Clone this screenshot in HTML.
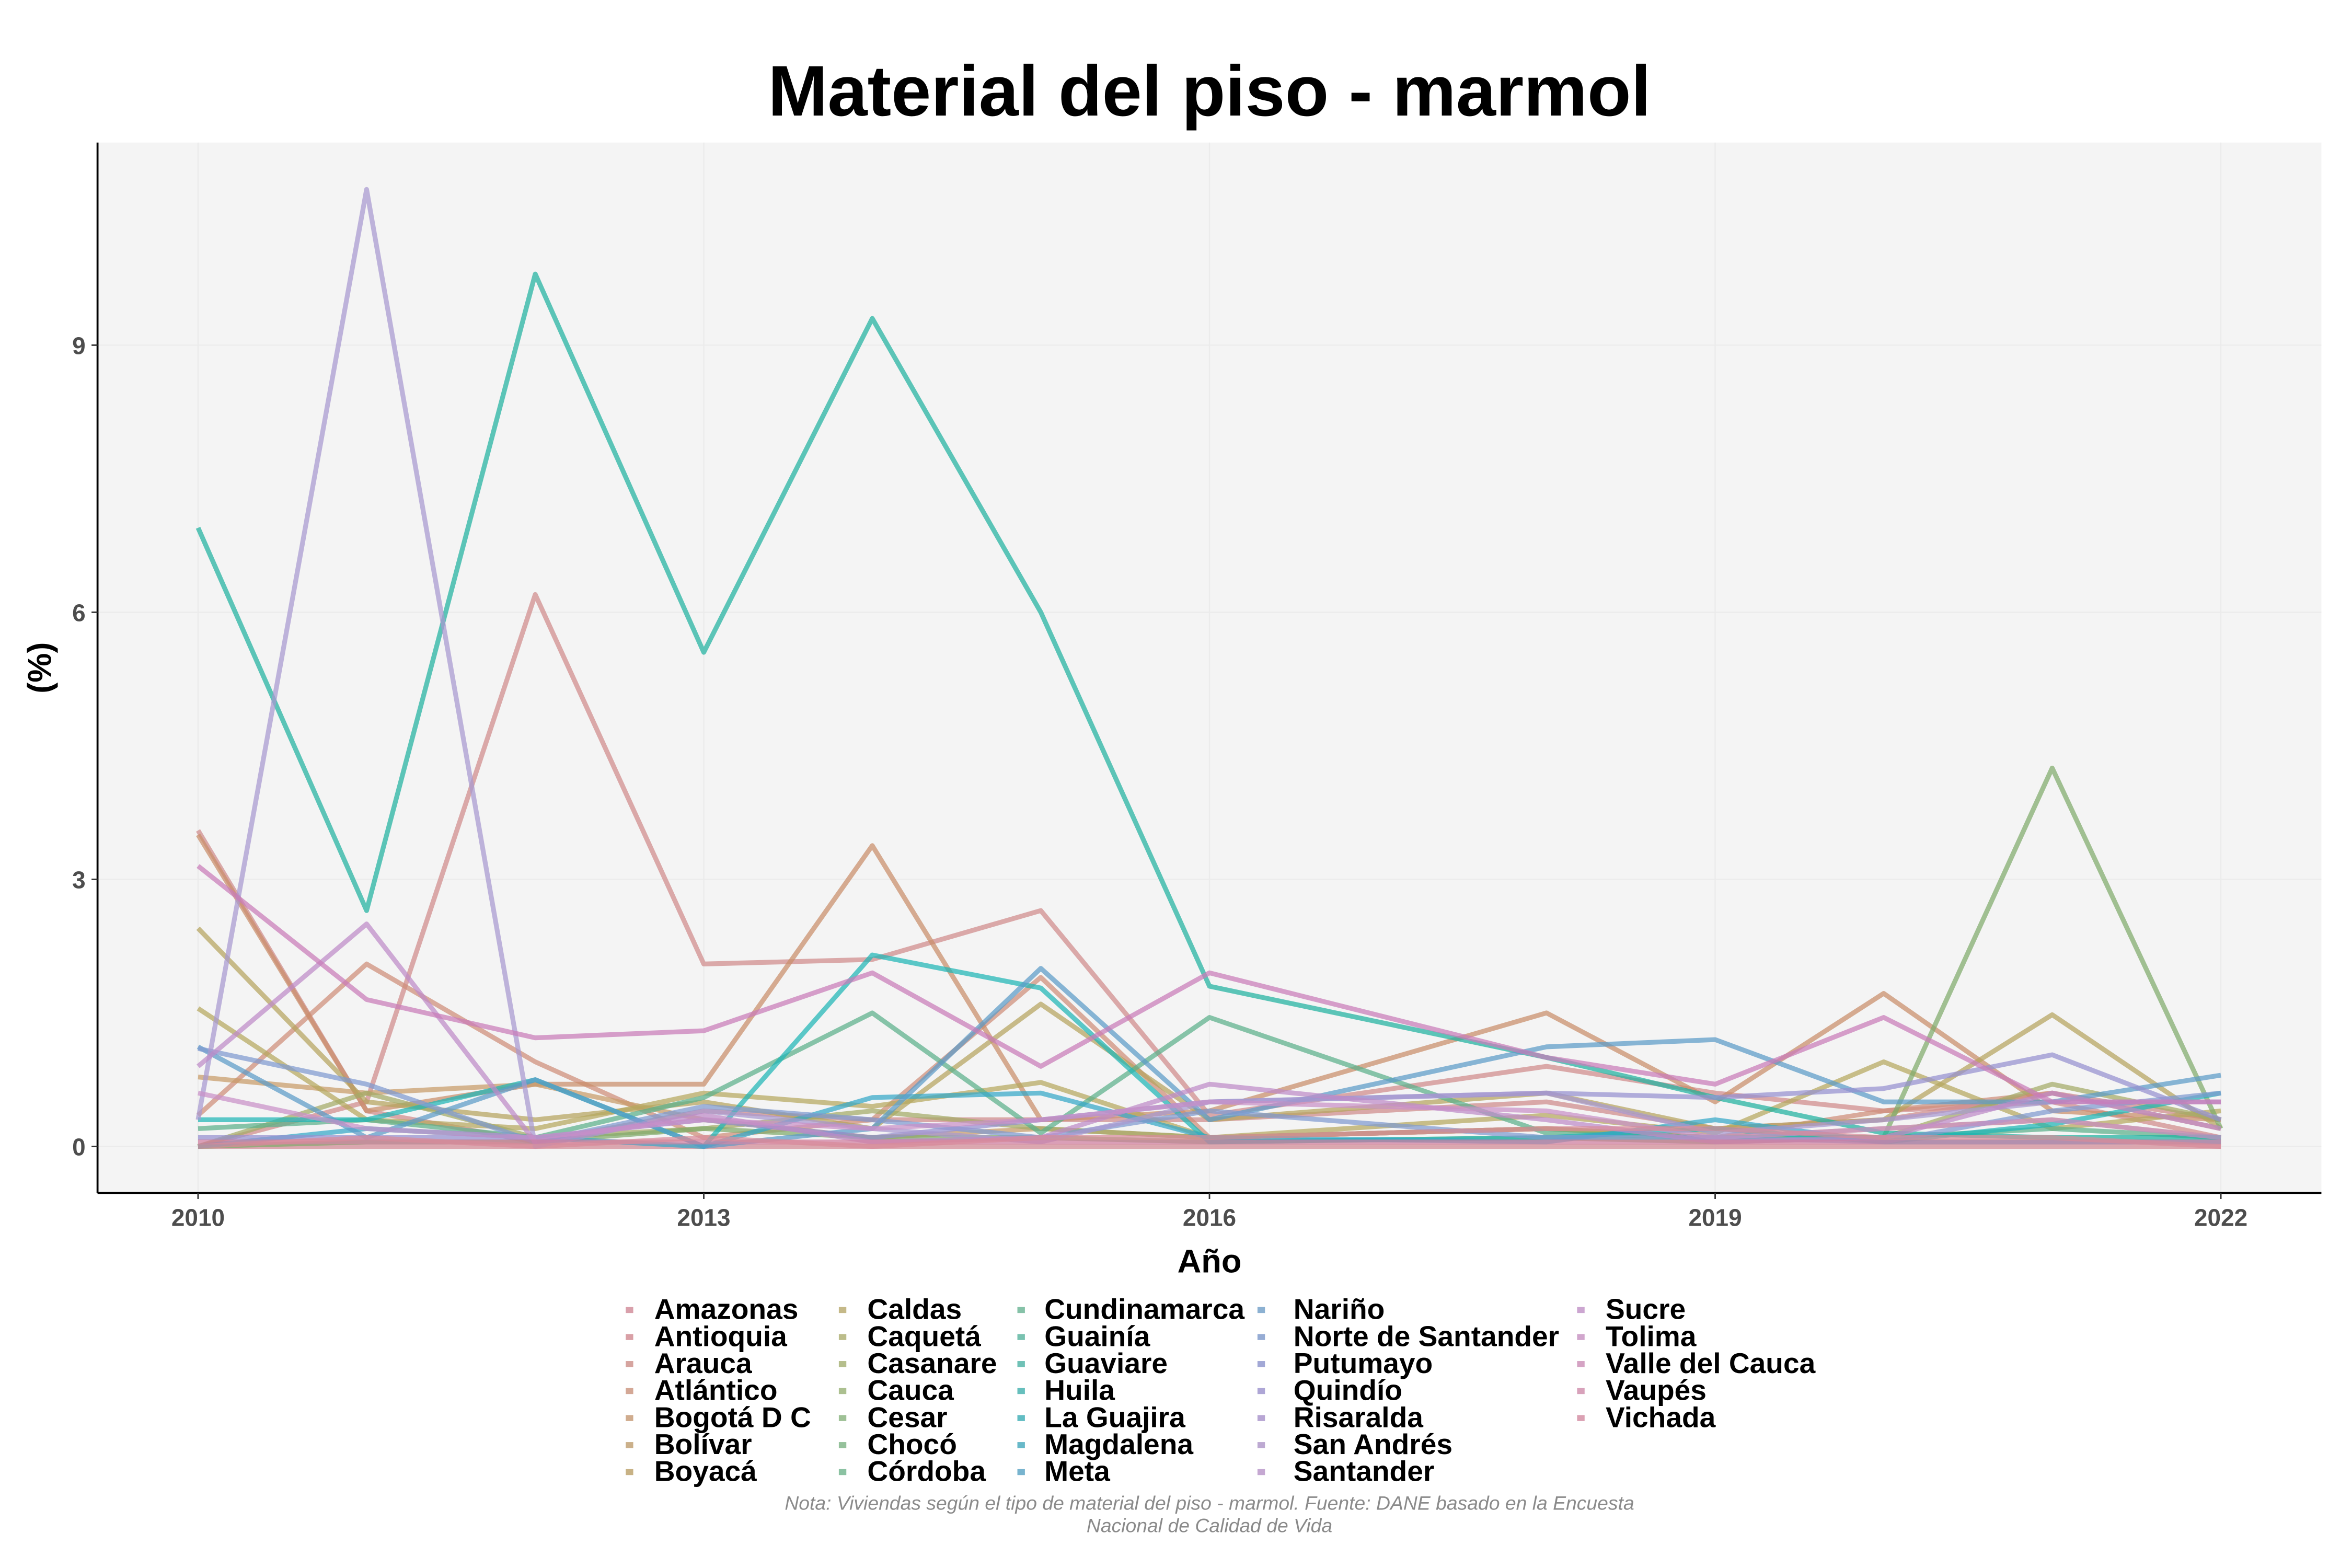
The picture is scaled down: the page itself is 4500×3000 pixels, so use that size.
<!DOCTYPE html>
<html><head><meta charset="utf-8"><style>
html,body{margin:0;padding:0;background:#fff}
svg{display:block}
text{font-family:"Liberation Sans Narrow","Liberation Sans",sans-serif;font-weight:bold}
</style></head><body>
<svg id="s" width="4500" height="3000" viewBox="0 0 1567.4 1044.9" xmlns="http://www.w3.org/2000/svg">
<rect x="0" y="0" width="1570" height="1050" fill="#fff"/>
<rect x="65" y="95" width="1482" height="700" fill="#f4f4f4"/>
<g stroke="#ebebeb" stroke-width="0.8">
<line x1="65" x2="1547" y1="764" y2="764"/><line x1="65" x2="1547" y1="586" y2="586"/>
<line x1="65" x2="1547" y1="408" y2="408"/><line x1="65" x2="1547" y1="230" y2="230"/>
<line y1="95" y2="795" x1="132" x2="132"/><line y1="95" y2="795" x1="469" x2="469"/>
<line y1="95" y2="795" x1="806" x2="806"/><line y1="95" y2="795" x1="1143" x2="1143"/>
<line y1="95" y2="795" x1="1480" x2="1480"/>
</g>
<g id="lines" fill="none" stroke-width="3.2" stroke-linejoin="round" stroke-opacity="0.72"></g>
<line x1="65" y1="95" x2="65" y2="795" stroke="#000" stroke-width="1.3"/>
<line x1="65" y1="795" x2="1547" y2="795" stroke="#000" stroke-width="1.3"/>
<g stroke="#333" stroke-width="1">
<line x1="61" x2="65" y1="764" y2="764"/><line x1="61" x2="65" y1="586" y2="586"/><line x1="61" x2="65" y1="408" y2="408"/><line x1="61" x2="65" y1="230" y2="230"/>
<line y1="795" y2="799" x1="132" x2="132"/><line y1="795" y2="799" x1="469" x2="469"/><line y1="795" y2="799" x1="806" x2="806"/><line y1="795" y2="799" x1="1143" x2="1143"/><line y1="795" y2="799" x1="1480" x2="1480"/>
</g>
<g fill="#4d4d4d" font-size="16" text-anchor="end">
<text x="57" y="770">0</text><text x="57" y="592">3</text><text x="57" y="414">6</text><text x="57" y="236">9</text>
</g>
<g fill="#4d4d4d" font-size="16" text-anchor="middle">
<text x="132" y="817">2010</text><text x="469" y="817">2013</text><text x="806" y="817">2016</text><text x="1143" y="817">2019</text><text x="1480" y="817">2022</text>
</g>
<text x="806" y="77" font-size="47.7" text-anchor="middle" style="font-family:'Liberation Sans',sans-serif">Material del piso - marmol</text>
<text x="806" y="848" font-size="22" text-anchor="middle">Año</text>
<text transform="translate(34,445) rotate(-90)" font-size="22" text-anchor="middle">(%)</text>
<g id="leg" font-size="19.2"></g>
<g fill="#8a8a8a" font-size="13" text-anchor="middle" font-style="italic">
<text x="806" y="1006" style="font-weight:normal">Nota: Viviendas según el tipo de material del piso - marmol. Fuente: DANE basado en la Encuesta</text>
<text x="806" y="1021" style="font-weight:normal">Nacional de Calidad de Vida</text>
</g>
</svg>
<script>
var NS="http://www.w3.org/2000/svg";
var names=[["Amazonas","Antioquia","Arauca","Atlántico","Bogotá D C","Bolívar","Boyacá"],
["Caldas","Caquetá","Casanare","Cauca","Cesar","Chocó","Córdoba"],
["Cundinamarca","Guainía","Guaviare","Huila","La Guajira","Magdalena","Meta"],
["Nariño","Norte de Santander","Putumayo","Quindío","Risaralda","San Andrés","Santander"],
["Sucre","Tolima","Valle del Cauca","Vaupés","Vichada"]];
var cols=[["#d9a0ab","#d9a0a6","#d6a49f","#d4a896","#d0ac8e","#cbb08a","#c8b285"],
["#c5b988","#bcbd8b","#b5be8c","#acc090","#9fc196","#95c19b","#8bc2a2"],
["#86c2a8","#79c2b0","#6fc1b6","#66bfbd","#62bdc3","#68b9c9","#78b4cf"],
["#8cb1d2","#96acd4","#a2a8d6","#aea6d6","#b8a6d4","#bda9d2","#c5a8d2"],
["#cca6d1","#d1a6cd","#d5a3c4","#d8a2bb","#dba1b3"]];
var lx=[[420,436],[562,578],[681,696],[841,862],[1054,1070]];
var leg=document.getElementById("leg");
names.forEach(function(c,i){c.forEach(function(n,j){var y=873+18*j;
var r=document.createElementNS(NS,"rect");r.setAttribute("x",lx[i][0]-3);r.setAttribute("y",y-2);r.setAttribute("width",5);r.setAttribute("height",4);r.setAttribute("fill",cols[i][j]);leg.appendChild(r);
var t=document.createElementNS(NS,"text");t.setAttribute("x",lx[i][1]);t.setAttribute("y",y+6);t.textContent=n;leg.appendChild(t);});});
var yrs=[2010,2011,2012,2013,2014,2015,2016,2018,2019,2020,2021,2022];
function X(y){return 132+112.33*(y-2010);} function Y(v){return 764-59.33*v;}
var data=[
["#d28a95",[0,0,0,0,0,0,0,0,0,0,0,0]],
["#cf8a8a",[3.55,0.4,0.05,0.4,0.3,0.3,0.3,0.5,0.2,0.3,0.6,0.3]],
["#d08a8a",[0,0.5,6.2,2.05,2.1,2.65,0.35,0.9,0.6,0.4,0.5,0.1]],
["#cf8e78",[0.35,2.05,0.95,0.1,0.3,1.9,0.1,0.2,0.1,0.4,0.6,0.2]],
["#c98e6a",[3.5,0.4,0.7,0.7,3.38,0.3,0.4,1.5,0.5,1.72,0.4,0.3]],
["#c79b68",[0.78,0.6,0.7,0.3,0.1,0.2,0.1,0.2,0.1,0.2,0.3,0.1]],
["#b5a35e",[2.45,0.5,0.3,0.5,0.2,1.6,0.3,0.6,0.2,0.3,1.48,0.2]],
["#b5a85e",[1.55,0.3,0.2,0.6,0.45,0.72,0.1,0.35,0.15,0.95,0.2,0.4]],
["#a4aa66",[0,0.6,0.1,0.2,0.4,0.2,0.1,0.2,0.1,0.1,0.7,0.3]],
["#7fab6b",[0,0.05,0.05,0.2,0.1,0.1,0.05,0.1,0.05,0.1,4.25,0.2]],
["#5cb08a",[0.2,0.3,0.1,0.55,1.5,0.15,1.45,0.15,0.1,0.1,0.2,0.1]],
["#20b2a0",[6.95,2.65,9.8,5.55,9.3,6.0,1.8,1.0,0.55,0.15,0.1,0.1]],
["#1fb5b5",[0.3,0.3,0.75,0,2.15,1.78,0.05,0.1,0.2,0.05,0.25,0.6]],
["#35a8c8",[0,0.2,0.1,0,0.55,0.6,0.1,0.05,0.3,0.05,0.05,0.05]],
["#5c9bc8",[1.12,0.1,0.75,0,0.2,2.0,0.3,1.12,1.2,0.5,0.5,0.8]],
["#7f9ad0",[1.1,0.7,0.05,0.45,0.3,0.1,0.4,0.1,0.1,0.05,0.4,0.6]],
["#9690d0",[0.1,0.1,0.1,0.3,0.1,0.3,0.5,0.6,0.55,0.65,1.03,0.3]],
["#a898d0",[0.3,10.75,0,0.4,0.2,0.05,0.5,0.6,0.15,0.3,0.5,0.5]],
["#be8ac8",[0.9,2.5,0.05,0.35,0.05,0.1,0.7,0.3,0.05,0.1,0.6,0.2]],
["#c990c8",[0.6,0.2,0.1,0.3,0.2,0.3,0.5,0.4,0.1,0.2,0.3,0.1]],
["#c97cb8",[3.15,1.65,1.22,1.3,1.95,0.9,1.95,1.0,0.7,1.45,0.5,0.5]],
["#d07ea0",[0.05,0.05,0.05,0.05,0.05,0.05,0.05,0.05,0.05,0.05,0.05,0.05]],
["#d88a9a",[0,0.1,0,0.1,0,0.1,0.1,0.2,0.2,0.1,0.1,0]]];
var g=document.getElementById("lines");
data.forEach(function(d){var p=document.createElementNS(NS,"polyline");
p.setAttribute("points",d[1].map(function(v,i){return X(yrs[i]).toFixed(1)+","+Y(v).toFixed(1)}).join(" "));
p.setAttribute("stroke",d[0]);g.appendChild(p);});
</script>
</body></html>
